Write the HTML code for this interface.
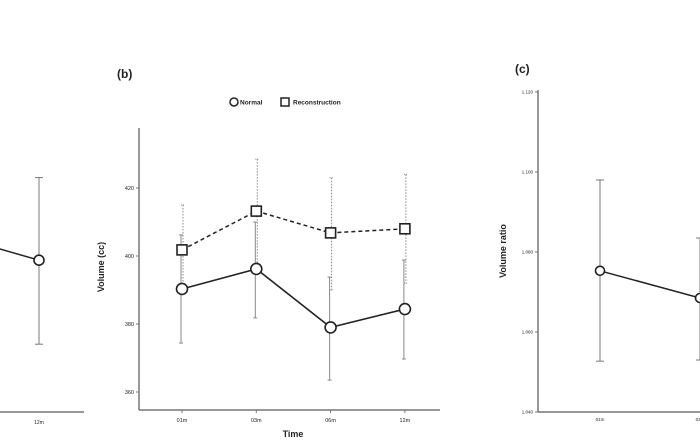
<!DOCTYPE html>
<html><head><meta charset="utf-8"><style>
html,body{margin:0;padding:0;background:#fff;width:700px;height:440px;overflow:hidden}
svg{font-family:"Liberation Sans",sans-serif}
</style></head><body>
<svg id="c" width="700" height="440" viewBox="0 0 700 440"></svg>
<script>
// Panel b data
const bCats = ["01m","03m","06m","12m"];
const bNormal = [390.3, 396.2, 379.0, 384.4];
const bNormalHi = [406.2, 410.0, 393.8, 398.8];
const bNormalLo = [374.4, 381.8, 363.5, 369.7];
const bRecon = [401.8, 413.2, 406.8, 408.0];
const bReconHi = [415.0, 428.5, 423.0, 424.0];
const bReconLo = [390.0, 398.0, 390.0, 392.0];
const bTicks = [360, 380, 400, 420];
// Panel c data
const cCats = ["01m","03m"];
const cVals = [1.0753, 1.0685];
const cHi = [1.098, 1.0835];
const cLo = [1.0527, 1.053];
const cTicks = [1.040, 1.060, 1.080, 1.100, 1.120];
// Panel a data (partially visible)
const aCats = ["06m","12m"];
const aVals = [417.5, 397.0];
const aHi = [470, 456];
const aLo = [340, 337];

const NS="http://www.w3.org/2000/svg", svg=document.getElementById('c');
function el(t,a,p){const e=document.createElementNS(NS,t);for(const k in a)e.setAttribute(k,a[k]);(p||svg).appendChild(e);return e;}
function txt(x,y,s,size,extra){const e=el('text',Object.assign({x:x,y:y,'font-size':size,fill:'#222'},extra||{}));e.textContent=s;return e;}

// ---- Panel b ----
const bx=i=>182+i*74.3, by=v=>256-(v-400)*3.4;
const gB=el('g',{});


let e=el('line',{x1:139,y1:128,x2:139,y2:410,stroke:'#777','stroke-width':1.5},gB);

e=el('line',{x1:139,y1:410,x2:440,y2:410,stroke:'#777','stroke-width':1.5},gB);

bTicks.forEach(t=>{el('line',{x1:136,y1:by(t),x2:139,y2:by(t),stroke:'#777'},gB);
 e=txt(134,by(t)+2,String(t),5.5,{'text-anchor':'end'});gB.appendChild(e);
 });
bCats.forEach((c,i)=>{el('line',{x1:bx(i),y1:410,x2:bx(i),y2:413,stroke:'#777'},gB);
 e=txt(bx(i),422,c,5.5,{'text-anchor':'middle'});gB.appendChild(e);
 });
e=txt(104,267,'Volume (cc)',9,{'font-weight':'bold','text-anchor':'middle',transform:'rotate(-90 104 267)'});

e=txt(293,437,'Time',9,{'font-weight':'bold','text-anchor':'middle'});

e=txt(117,78,'(b)',12,{'font-weight':'bold'});

bCats.forEach((c,i)=>{
 e=el('line',{x1:bx(i)+1,y1:by(bReconHi[i]),x2:bx(i)+1,y2:by(bReconLo[i]),stroke:'#888','stroke-dasharray':'1.5 1.5'},gB);
 
 e=el('line',{x1:bx(i)-1,y1:by(bNormalHi[i]),x2:bx(i)-1,y2:by(bNormalLo[i]),stroke:'#888'},gB);
 
 [bNormalHi[i],bNormalLo[i]].forEach(v=>el('line',{x1:bx(i)-3,y1:by(v),x2:bx(i)+1,y2:by(v),stroke:'#888'},gB));
 [bReconHi[i],bReconLo[i]].forEach(v=>el('line',{x1:bx(i)-1,y1:by(v),x2:bx(i)+3,y2:by(v),stroke:'#888','stroke-dasharray':'1 1'},gB));
});
e=el('polyline',{points:bRecon.map((v,i)=>bx(i)+','+by(v)).join(' '),fill:'none',stroke:'#222','stroke-width':1.5,'stroke-dasharray':'4 3'},gB);

e=el('polyline',{points:bNormal.map((v,i)=>bx(i)+','+by(v)).join(' '),fill:'none',stroke:'#222','stroke-width':1.6},gB);

bCats.forEach((c,i)=>{
 e=el('rect',{x:bx(i)-5,y:by(bRecon[i])-5,width:10,height:10,fill:'#fff',stroke:'#222','stroke-width':1.6},gB);
 
 e=el('circle',{cx:bx(i),cy:by(bNormal[i]),r:5.5,fill:'#fff',stroke:'#222','stroke-width':1.6},gB);
 
});
const lg=el('g',{});

el('circle',{cx:234,cy:102,r:4,fill:'#fff',stroke:'#222','stroke-width':1.5},lg);
e=txt(240,104.5,'Normal',6.5,{'font-weight':'bold'});lg.appendChild(e);

el('rect',{x:281,y:98,width:8,height:8,fill:'#fff',stroke:'#222','stroke-width':1.5},lg);
e=txt(293,104.5,'Reconstruction',6.5,{'font-weight':'bold'});lg.appendChild(e);


// ---- Panel c ----
const cx=i=>600+i*100, cy=v=>252-(v-1.08)*4000;
const gC=el('g',{});

el('line',{x1:538,y1:90,x2:538,y2:412,stroke:'#777','stroke-width':1.5},gC);
el('line',{x1:538,y1:412,x2:700,y2:412,stroke:'#777','stroke-width':1.5},gC);
cTicks.forEach(t=>{el('line',{x1:535,y1:cy(t),x2:538,y2:cy(t),stroke:'#777'},gC);
 e=txt(533,cy(t)+1.5,t.toFixed(3),4.5,{'text-anchor':'end'});gC.appendChild(e);
 });
cCats.forEach((c,i)=>{e=txt(cx(i),421,c,4.5,{'text-anchor':'middle'});gC.appendChild(e);
 });
e=txt(506,251,'Volume ratio',9,{'font-weight':'bold','text-anchor':'middle',transform:'rotate(-90 506 251)'});

e=txt(515,73,'(c)',12,{'font-weight':'bold'});

cCats.forEach((c,i)=>{
 e=el('line',{x1:cx(i),y1:cy(cHi[i]),x2:cx(i),y2:cy(cLo[i]),stroke:'#777'},gC);
 
 [cHi[i],cLo[i]].forEach(v=>el('line',{x1:cx(i)-4,y1:cy(v),x2:cx(i)+4,y2:cy(v),stroke:'#777'},gC));
});
e=el('polyline',{points:cVals.map((v,i)=>cx(i)+','+cy(v)).join(' '),fill:'none',stroke:'#222','stroke-width':1.5},gC);

cCats.forEach((c,i)=>{e=el('circle',{cx:cx(i),cy:cy(cVals[i]),r:4.5,fill:'#fff',stroke:'#222','stroke-width':1.6},gC);
 });

// ---- Panel a (cut off) ----
const ax=i=>-61+i*100, ay=v=>256-(v-400)*1.4;
const gA=el('g',{});

el('line',{x1:0,y1:412,x2:84,y2:412,stroke:'#777','stroke-width':1.5},gA);
e=txt(39,424,'12m',5,{'text-anchor':'middle'});gA.appendChild(e);

aCats.forEach((c,i)=>{
 e=el('line',{x1:ax(i),y1:ay(aHi[i]),x2:ax(i),y2:ay(aLo[i]),stroke:'#777'},gA);
 
 [aHi[i],aLo[i]].forEach(v=>el('line',{x1:ax(i)-4,y1:ay(v),x2:ax(i)+4,y2:ay(v),stroke:'#777'},gA));
});
e=el('polyline',{points:aVals.map((v,i)=>ax(i)+','+ay(v)).join(' '),fill:'none',stroke:'#222','stroke-width':1.5},gA);

aCats.forEach((c,i)=>{e=el('circle',{cx:ax(i),cy:ay(aVals[i]),r:5,fill:'#fff',stroke:'#222','stroke-width':1.6},gA);
 });
</script>
</body></html>
